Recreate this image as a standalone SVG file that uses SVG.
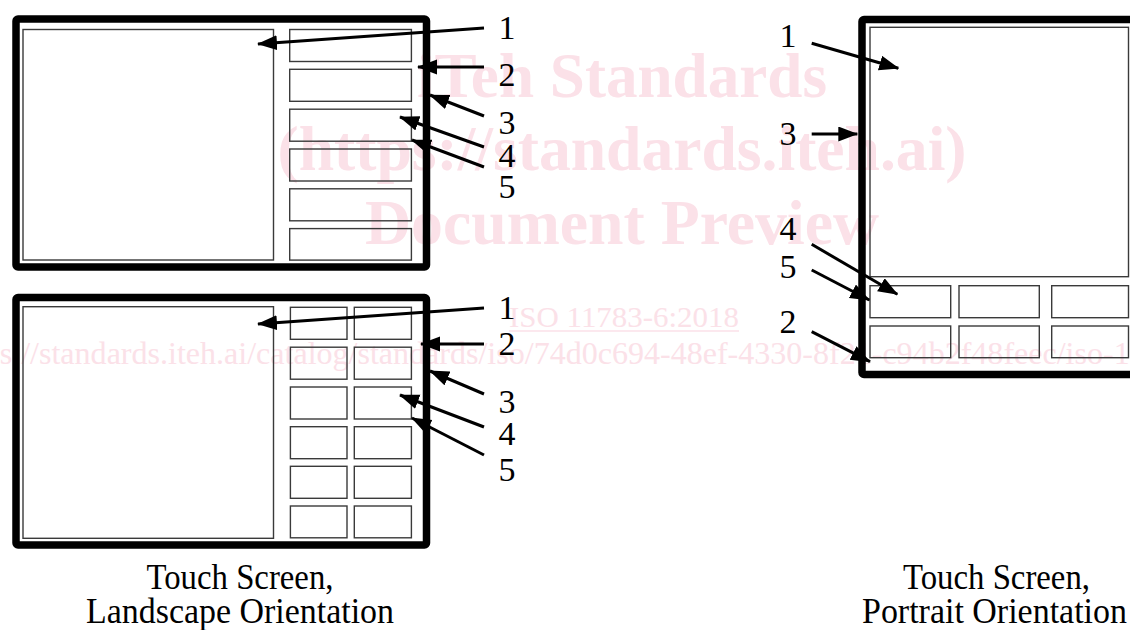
<svg xmlns="http://www.w3.org/2000/svg" width="1130" height="630" viewBox="0 0 1130 630">
  <style>
    .serif { font-family: "Liberation Serif", "DejaVu Serif", "Noto Serif", "Times New Roman", Times, serif; }
    .wm { fill: #fbe1e8; }
    .wmb { font-weight: bold; font-size: 63px; text-anchor: middle; }
    .frame { fill: none; stroke: #000; stroke-width: 7.5; stroke-linejoin: round; }
    .box { fill: none; stroke: #3a3a3a; stroke-width: 1.4; }
    .lbl { font-size: 34px; fill: #000; text-anchor: middle; }
    .cap { font-size: 36px; fill: #000; text-anchor: middle; }
    .ld { stroke: #000; stroke-width: 3; fill: none; marker-end: url(#ah); }
  </style>
  <defs>
    <marker id="ah" markerUnits="userSpaceOnUse" markerWidth="20" markerHeight="16" refX="19" refY="7.5" orient="auto">
      <path d="M0,0 L20,7.5 L0,15 z" fill="#000"/>
    </marker>
  </defs>
  <rect width="1130" height="630" fill="#fff"/>

  <!-- watermark -->
  <g id="watermark" class="wm serif" font-family="Liberation Serif, DejaVu Serif, serif">
    <text class="wmb" x="622" y="97" textLength="410" lengthAdjust="spacingAndGlyphs">iTeh Standards</text>
    <text class="wmb" x="622" y="170" textLength="689" lengthAdjust="spacingAndGlyphs">(https://standards.iteh.ai)</text>
    <text class="wmb" x="622" y="244" textLength="514" lengthAdjust="spacingAndGlyphs">Document Preview</text>
    <text x="624" y="327" font-size="29" text-anchor="middle" textLength="230" lengthAdjust="spacingAndGlyphs">ISO 11783-6:2018</text>
    <line x1="509" y1="331" x2="739" y2="331" stroke="#fbe1e8" stroke-width="1.5"/>
    <text x="-50" y="364" font-size="32" textLength="1344" lengthAdjust="spacingAndGlyphs">https://standards.iteh.ai/catalog/standards/iso/74d0c694-48ef-4330-8f21-c94b2f48feec/iso-11783-6-2018</text>
  </g>

  <!-- Landscape, single column -->
  <g id="landscape1">
    <rect class="frame" x="16" y="19" width="410.5" height="248" rx="2"/>
    <rect class="box" x="23" y="29.5" width="250.5" height="230.5"/>
    <rect class="box" x="289.7" y="29.5" width="121.7" height="32"/>
    <rect class="box" x="289.7" y="69.3" width="121.7" height="32"/>
    <rect class="box" x="289.7" y="109.2" width="121.7" height="32"/>
    <rect class="box" x="289.7" y="149" width="121.7" height="32"/>
    <rect class="box" x="289.7" y="188.8" width="121.7" height="32"/>
    <rect class="box" x="289.7" y="228.6" width="121.7" height="31.5"/>
  </g>

  <!-- Landscape, two columns -->
  <g id="landscape2">
    <rect class="frame" x="16" y="297.5" width="410.5" height="247.5" rx="2"/>
    <rect class="box" x="23" y="306.7" width="250.5" height="231.6"/>
    <rect class="box" x="290.4" y="307.3" width="56.6" height="32"/>
    <rect class="box" x="354.3" y="307.3" width="57.1" height="32"/>
    <rect class="box" x="290.4" y="347.2" width="56.6" height="32"/>
    <rect class="box" x="354.3" y="347.2" width="57.1" height="32"/>
    <rect class="box" x="290.4" y="387" width="56.6" height="32"/>
    <rect class="box" x="354.3" y="387" width="57.1" height="32"/>
    <rect class="box" x="290.4" y="426.7" width="56.6" height="32"/>
    <rect class="box" x="354.3" y="426.7" width="57.1" height="32"/>
    <rect class="box" x="290.4" y="466.3" width="56.6" height="32"/>
    <rect class="box" x="354.3" y="466.3" width="57.1" height="32"/>
    <rect class="box" x="290.4" y="506" width="56.6" height="31.8"/>
    <rect class="box" x="354.3" y="506" width="57.1" height="31.8"/>
  </g>

  <!-- Portrait -->
  <g id="portrait">
    <rect class="frame" x="862" y="19.5" width="300" height="355" rx="2"/>
    <rect class="box" x="870" y="27.3" width="258.5" height="249.4"/>
    <rect class="box" x="870" y="285.7" width="80.7" height="32"/>
    <rect class="box" x="959" y="285.7" width="80.3" height="32"/>
    <rect class="box" x="1051.7" y="285.7" width="76.8" height="32"/>
    <rect class="box" x="870" y="326" width="80.7" height="31.7"/>
    <rect class="box" x="959" y="326" width="80.3" height="31.7"/>
    <rect class="box" x="1051.7" y="326" width="76.8" height="31.7"/>
  </g>

  <!-- connectors -->
  <g id="connectors">
    <line class="ld" x1="484" y1="28" x2="258" y2="44"/>
    <line class="ld" x1="484" y1="67" x2="418" y2="67"/>
    <line class="ld" x1="484" y1="116" x2="430" y2="95"/>
    <line class="ld" x1="484" y1="147" x2="400" y2="117"/>
    <line class="ld" x1="484" y1="167" x2="412" y2="140"/>

    <line class="ld" x1="484" y1="308" x2="258" y2="324"/>
    <line class="ld" x1="484" y1="344" x2="421" y2="344"/>
    <line class="ld" x1="484" y1="394" x2="430" y2="371"/>
    <line class="ld" x1="484" y1="427" x2="400" y2="395"/>
    <line class="ld" x1="484" y1="455" x2="412" y2="418"/>

    <line class="ld" x1="811.7" y1="43.3" x2="898.3" y2="68.3"/>
    <line class="ld" x1="811.7" y1="134" x2="857.3" y2="134"/>
    <line class="ld" x1="811.7" y1="244.3" x2="897.3" y2="294.3"/>
    <line class="ld" x1="811.7" y1="270" x2="869.3" y2="300"/>
    <line class="ld" x1="811.7" y1="331.7" x2="870" y2="361.7"/>
  </g>

  <!-- labels -->
  <g id="labels" class="serif" font-family="Liberation Serif, DejaVu Serif, serif">
    <text class="lbl" x="507" y="39">1</text>
    <text class="lbl" x="507" y="86">2</text>
    <text class="lbl" x="507" y="134">3</text>
    <text class="lbl" x="507" y="167">4</text>
    <text class="lbl" x="507" y="198">5</text>

    <text class="lbl" x="507" y="319">1</text>
    <text class="lbl" x="507" y="355">2</text>
    <text class="lbl" x="507" y="413">3</text>
    <text class="lbl" x="507" y="445">4</text>
    <text class="lbl" x="507" y="481">5</text>

    <text class="lbl" x="788" y="47">1</text>
    <text class="lbl" x="788" y="145">3</text>
    <text class="lbl" x="788" y="240">4</text>
    <text class="lbl" x="788" y="278">5</text>
    <text class="lbl" x="788" y="333">2</text>
  </g>

  <!-- captions -->
  <g id="captions" class="serif" font-family="Liberation Serif, DejaVu Serif, serif">
    <text class="cap" x="240" y="589" textLength="187" lengthAdjust="spacingAndGlyphs">Touch Screen,</text>
    <text class="cap" x="240" y="623" textLength="308" lengthAdjust="spacingAndGlyphs">Landscape Orientation</text>
    <text class="cap" x="996.5" y="589" textLength="187" lengthAdjust="spacingAndGlyphs">Touch Screen,</text>
    <text class="cap" x="994.5" y="623" textLength="265" lengthAdjust="spacingAndGlyphs">Portrait Orientation</text>
  </g>
</svg>
